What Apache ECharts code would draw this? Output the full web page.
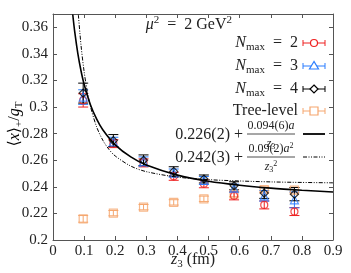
<!DOCTYPE html>
<html><head><meta charset="utf-8">
<script src="https://cdn.jsdelivr.net/npm/echarts@6/dist/echarts.min.js"></script>
<style>html,body{margin:0;padding:0;background:#fff}#c{width:351px;height:273px}</style>
</head><body><div id="c"></div>
<script>
// ---- data ----
const z3 = [0.097, 0.194, 0.291, 0.388, 0.485, 0.582, 0.679, 0.776];
const nmax2 = [0.3050, 0.2725, 0.2580, 0.2479, 0.2423, 0.2332, 0.2264, 0.2214];
const nmax2Err = [0.0050, 0.0030, 0.0030, 0.0030, 0.0030, 0.0030, 0.0030, 0.0030];
const nmax3 = [0.3075, 0.2738, 0.2590, 0.2504, 0.2448, 0.2390, 0.2332, 0.2302];
const nmax3Err = [0.0055, 0.0035, 0.0035, 0.0030, 0.0030, 0.0030, 0.0040, 0.0060];
const nmax4 = [0.3105, 0.2748, 0.2600, 0.2516, 0.2459, 0.2408, 0.2353, 0.2345];
const nmax4Err = [0.0075, 0.0045, 0.0040, 0.0035, 0.0030, 0.0030, 0.0040, 0.0050];
const tree = [0.2159, 0.2202, 0.2247, 0.2283, 0.2310, 0.2345, 0.2380, 0.2375];
const treeErr = [0.0025, 0.0020, 0.0020, 0.0020, 0.0020, 0.0020, 0.0020, 0.0020];
// fit curves, values
const fit1Z = [0.0635, 0.07, 0.08, 0.09, 0.10, 0.12, 0.14, 0.16, 0.20, 0.25, 0.30, 0.40, 0.50, 0.60, 0.70, 0.80, 0.90];
const fit1V = [0.3696, 0.3563, 0.3400, 0.3273, 0.3172, 0.3020, 0.2911, 0.2830, 0.2716, 0.2625, 0.2564, 0.2488, 0.2442, 0.2412, 0.2390, 0.2374, 0.2361];
const fit2Z = [0.0815, 0.09, 0.10, 0.11, 0.12, 0.14, 0.16, 0.18, 0.20, 0.25, 0.30, 0.40, 0.50, 0.60, 0.70, 0.80, 0.90];
const fit2V = [0.3695, 0.3466, 0.3267, 0.3120, 0.3008, 0.2852, 0.2751, 0.2681, 0.2632, 0.2556, 0.2514, 0.2473, 0.2454, 0.2444, 0.2437, 0.2433, 0.2430];
const xTicks = {min: 0, max: 0.9, step: 0.1};
const yTicks = {min: 0.2, max: 0.37, step: 0.02};

// ---- styles ----
const F = '"Liberation Serif","DejaVu Serif",serif';
const RED = '#ee2020', BLUE = '#2a7dff', BLACK = '#000', ORANGE = '#f5a66e';
const FRAME = '#555';

function pts(v, e) { return z3.map((z, i) => [z, v[i], e[i]]); }
function errSeries(v, e, color, capW) {
  return {
    type: 'custom', data: pts(v, e), encode: {x: 0, y: 1}, z: 2,
    renderItem(params, api) {
      const x = api.value(0), y = api.value(1), er = api.value(2);
      const t = api.coord([x, y + er]), b = api.coord([x, y - er]);
      const st = {stroke: color, lineWidth: 1};
      return {type: 'group', children: [
        {type: 'line', shape: {x1: t[0], y1: t[1], x2: b[0], y2: b[1]}, style: st},
        {type: 'line', shape: {x1: t[0] - capW / 2, y1: t[1], x2: t[0] + capW / 2, y2: t[1]}, style: st},
        {type: 'line', shape: {x1: b[0] - capW / 2, y1: b[1], x2: b[0] + capW / 2, y2: b[1]}, style: st}
      ]};
    }
  };
}
function markSeries(v, e, color, symbol, size) {
  return {type: 'scatter', data: pts(v, e), symbol, symbolSize: size, z: 3,
    itemStyle: {color: 'rgba(255,255,255,0)', borderColor: color, borderWidth: 1.2}};
}

const rich = {
  m: {fontFamily: F, fontSize: 16, color: '#222', lineHeight: 20, verticalAlign: 'middle'},
  i: {fontFamily: F, fontSize: 16, fontStyle: 'italic', color: '#222', lineHeight: 20, verticalAlign: 'middle'},
  sb: {fontFamily: F, fontSize: 11, color: '#222', lineHeight: 12, verticalAlign: 'bottom'},
  sp: {fontFamily: F, fontSize: 11, color: '#222', lineHeight: 12, verticalAlign: 'top'},
  n: {fontFamily: F, fontSize: 12, color: '#222', lineHeight: 14},
  ni: {fontFamily: F, fontSize: 12, fontStyle: 'italic', color: '#222', lineHeight: 14},
  nsp: {fontFamily: F, fontSize: 8, color: '#222', lineHeight: 10, verticalAlign: 'top'},
  nsb: {fontFamily: F, fontSize: 8, color: '#222', lineHeight: 10, verticalAlign: 'bottom'}
};
function txt(x, y, text, align, va) {
  return {type: 'text', x, y, z: 10, style: {text, rich, align: align || 'right', verticalAlign: va || 'middle', font: '16px ' + F, fill: '#222'}};
}
function hbar(cx, y, color) {
  const st = {stroke: color, lineWidth: 1};
  return [
    {type: 'line', z: 10, shape: {x1: cx - 11, y1: y, x2: cx + 11, y2: y}, style: st},
    {type: 'line', z: 10, shape: {x1: cx - 11, y1: y - 3, x2: cx - 11, y2: y + 3}, style: st},
    {type: 'line', z: 10, shape: {x1: cx + 11, y1: y - 3, x2: cx + 11, y2: y + 3}, style: st}
  ];
}
const LX = 298, MX = 314;
const rows = [43, 66, 89, 111, 134, 157];
const graphic = [
  txt(232, 25, '{i|μ}{sp|2}{m|  =  2 GeV}{sp|2}'),
  txt(LX, rows[0], '{i|N}{sb|max}{m|  =  2}'),
  ...hbar(MX, rows[0], RED),
  {type: 'circle', z: 11, shape: {cx: MX, cy: rows[0], r: 3.5}, style: {fill: '#fff', stroke: RED, lineWidth: 1.2}},
  txt(LX, rows[1], '{i|N}{sb|max}{m|  =  3}'),
  ...hbar(MX, rows[1], BLUE),
  {type: 'polygon', z: 11, shape: {points: [[MX, rows[1] - 4.5], [MX - 4.5, rows[1] + 3], [MX + 4.5, rows[1] + 3]]}, style: {fill: '#fff', stroke: BLUE, lineWidth: 1.2}},
  txt(LX, rows[2], '{i|N}{sb|max}{m|  =  4}'),
  ...hbar(MX, rows[2], BLACK),
  {type: 'polygon', z: 11, shape: {points: [[MX, rows[2] - 4], [MX + 4, rows[2]], [MX, rows[2] + 4], [MX - 4, rows[2]]]}, style: {fill: '#fff', stroke: BLACK, lineWidth: 1.2}},
  txt(LX, rows[3], '{m|Tree-level}'),
  ...hbar(MX, rows[3], ORANGE),
  {type: 'rect', z: 11, shape: {x: MX - 4, y: rows[3] - 4, width: 8, height: 8}, style: {fill: '#fff', stroke: ORANGE, lineWidth: 1.2}},
  // fit 1 label
  txt(243, rows[4] + 1, '{m|0.226(2) +}'),
  txt(271, rows[4] - 1, '{n|0.094(6)}{ni|a}', 'center', 'bottom'),
  {type: 'line', z: 10, shape: {x1: 247, y1: rows[4], x2: 295, y2: rows[4]}, style: {stroke: '#222', lineWidth: 0.8}},
  txt(271, rows[4] + 3, '{ni|z}{nsb|3}', 'center', 'top'),
  {type: 'line', z: 10, shape: {x1: 303, y1: rows[4], x2: 325, y2: rows[4]}, style: {stroke: BLACK, lineWidth: 1.8}},
  // fit 2 label
  txt(243, rows[5] + 1, '{m|0.242(3) +}'),
  txt(271, rows[5] - 1, '{n|0.09(2)}{ni|a}{nsp|2}', 'center', 'bottom'),
  {type: 'line', z: 10, shape: {x1: 247, y1: rows[5], x2: 295, y2: rows[5]}, style: {stroke: '#222', lineWidth: 0.8}},
  txt(271, rows[5] + 3, '{ni|z}{nsb|3}{nsp|2}', 'center', 'top'),
  {type: 'line', z: 10, shape: {x1: 303, y1: rows[5], x2: 325, y2: rows[5]}, style: {stroke: BLACK, lineWidth: 1, lineDash: [4, 1.5, 1, 1.5, 1, 1.5]}},
  // axis titles
  txt(193, 260, '{i|z}{sb|3}{m| (fm)}', 'center', 'middle'),
  {type: 'text', x: 15, y: 124, rotation: Math.PI / 2, z: 10,
   style: {text: '{m|⟨}{i|x}{m|⟩}{sb|+}{m|/}{i|g}{sb|T}', rich, align: 'center', verticalAlign: 'middle', font: '16px ' + F}}
];

const axisCommon = {
  axisLine: {show: true, onZero: false, lineStyle: {color: FRAME, width: 1}},
  axisTick: {show: true, inside: true, length: 4, lineStyle: {color: FRAME}},
  splitLine: {show: false}
};
const option = {
  animation: false,
  grid: {left: 53, right: 18, top: 14, bottom: 33},
  xAxis: [
    Object.assign({type: 'value', min: xTicks.min, max: xTicks.max, interval: xTicks.step, position: 'bottom',
      axisLabel: {fontFamily: F, fontSize: 15, color: '#222', margin: 4, formatter: v => String(+v.toFixed(1))}}, axisCommon),
    Object.assign({type: 'value', min: xTicks.min, max: xTicks.max, interval: xTicks.step, position: 'top',
      axisLabel: {show: false}}, axisCommon)
  ],
  yAxis: [
    Object.assign({type: 'value', min: yTicks.min, max: yTicks.max, interval: yTicks.step, position: 'left',
      axisLabel: {fontFamily: F, fontSize: 15, color: '#222', margin: 5, showMaxLabel: false,
        formatter: v => (Math.abs(v - 0.37) < 1e-6 ? '' : String(+v.toFixed(2)))}}, axisCommon),
    Object.assign({type: 'value', min: yTicks.min, max: yTicks.max, interval: yTicks.step, position: 'right',
      axisLabel: {show: false}}, axisCommon)
  ],
  graphic,
  series: [
    errSeries(tree, treeErr, ORANGE, 10), markSeries(tree, treeErr, ORANGE, 'rect', 8),
    errSeries(nmax2, nmax2Err, RED, 10), markSeries(nmax2, nmax2Err, RED, 'circle', 7),
    errSeries(nmax3, nmax3Err, BLUE, 10), markSeries(nmax3, nmax3Err, BLUE, 'triangle', 8),
    errSeries(nmax4, nmax4Err, BLACK, 10), markSeries(nmax4, nmax4Err, BLACK, 'diamond', 8),
    {type: 'line', data: fit1Z.map((z, i) => [z, fit1V[i]]), smooth: 0.3, symbol: 'none', z: 5,
      lineStyle: {color: BLACK, width: 1.6}},
    {type: 'line', data: fit2Z.map((z, i) => [z, fit2V[i]]), smooth: 0.3, symbol: 'none', z: 5,
      lineStyle: {color: BLACK, width: 1, type: [4, 1.5, 1, 1.5, 1, 1.5]}}
  ]
};
echarts.init(document.getElementById('c'), null, {renderer: 'canvas'}).setOption(option);
</script></body></html>
